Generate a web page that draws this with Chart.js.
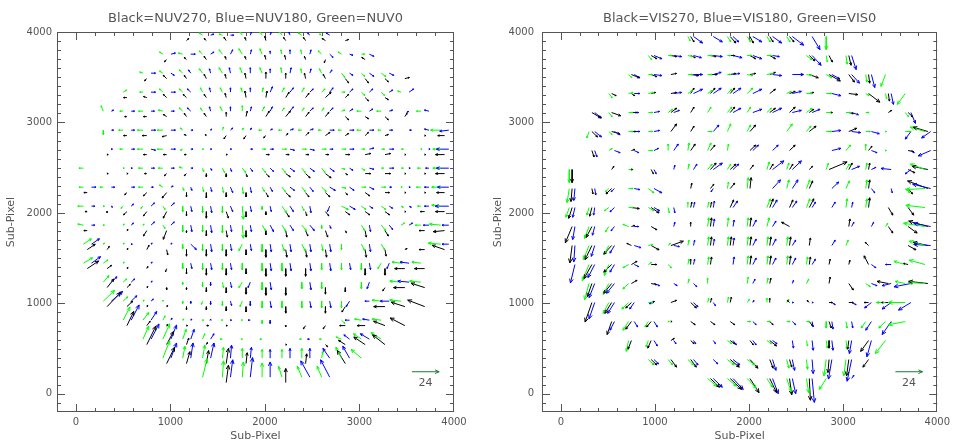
<!DOCTYPE html>
<html><head><meta charset="utf-8">
<script src="https://cdn.jsdelivr.net/npm/chart.js@4.4.1/dist/chart.umd.min.js"></script>
<style>
html,body{margin:0;padding:0;background:#fff;}
#wrap{position:relative;width:954px;height:443px;}
.p{position:absolute;top:0;width:477px;height:443px;}
canvas{display:block;}
</style></head>
<body><div id="wrap">
<div class="p" style="left:0"><canvas id="c1" width="477" height="443"></canvas></div>
<div class="p" style="left:477px"><canvas id="c2" width="477" height="443"></canvas></div>
</div>
<script>
// ---------------- data ----------------
const X_TICKS = [0, 1000, 2000, 3000, 4000];
const Y_TICKS = [0, 1000, 2000, 3000, 4000];
const GRID_X = [120,330,540,750,960,1170,1380,1590,1800,2010,2220,2430,2640,2850,3060,3270,3480,3690,3900];
const GRID_Y = [3950,3740,3530,3320,3110,2900,2690,2480,2270,2060,1850,1640,1430,1220,1010,800,590,380,170];
const NUV_START = [5,4,3,2,1,1,1,0,0,0,0,0,0,1,1,2,3,4,6];
const VIS_START = [6,4,3,2,1,1,1,0,0,0,0,0,0,1,1,2,3,4,7];
const LEGEND_VALUE = 24;

const NUV_G = [
[0,0,-3,2,-3,1,-2,3,-2,3,-2,3,-3,2,-2,1,0,0],
[-3,2,-4,1,-3,3,-3,4,-3,5,-2,5,-1,4,-1,4,-3,3,-3,2,3,0],
[-3,1,-3,2,-3,3,-3,4,-3,5,-2,5,-2,5,-1,5,-1,4,-2,4,3,-4,3,-3,4,-3,0,0],
[3,2,-3,0,-3,3,-3,3,-2,4,-2,4,-1,4,1,4,2,4,2,4,3,3,3,0,3,-3,3,-3,-3,1],
[-2,5,-3,0,-4,0,-4,1,-3,3,-2,3,-2,4,0,5,2,4,2,3,2,3,2,3,3,1,-4,0,-4,0,0,0,-4,0],
[0,-4,-4,0,-5,0,-5,0,-2,2,0,0,1,3,1,2,-3,0,-3,0,-3,0,-3,0,-3,0,-4,0,-3,0,0,0,0,0,-9,0],
[0,0,-3,0,-5,0,-5,0,-2,-1,1,0,0,0,0,0,3,0,4,0,4,0,4,0,4,0,3,0,3,0,2,0,1,0,-7,0],
[-4,0,0,0,1,0,-4,0,-4,0,-3,1,1,-3,2,-4,3,-4,3,-4,3,-4,3,-4,3,-4,3,-1,3,-2,2,0,2,0,-3,0,-7,0],
[-4,0,-3,0,0,0,-4,0,-3,2,1,-3,1,-4,1,-5,1,-6,2,-4,3,-4,3,-4,4,-4,4,-1,4,0,4,0,1,0,-4,0,-8,0],
[-5,0,1,0,-2,-2,-2,-2,2,-3,0,-5,0,-6,0,-6,1,-12,0,-3,4,-6,2,-4,0,0,6,-3,4,-3,4,-3,2,-1,-3,0,-8,1],
[-5,1,1,0,1,1,1,1,2,-3,0,-6,0,-6,0,-7,1,-12,3,-5,3,-5,4,-5,0,-3,0,0,3,-5,4,-5,3,2,-5,0,-10,1],
[7,5,1,1,1,1,0,0,0,0,0,-4,0,-6,0,-6,-3,-6,0,-7,2,-6,3,-6,1,-6,0,-5,3,-6,3,-5,0,0,0,0,-11,1],
[8,5,4,3,1,1,0,0,0,0,0,-5,0,-6,0,-6,0,-6,0,-7,0,-7,0,0,0,-6,0,-6,0,-6,-3,-5,-8,1,-8,1],
[5,6,3,3,0,0,0,0,0,-2,0,-4,1,-5,-3,-5,0,-7,0,0,0,-6,0,-6,0,0,0,-6,0,0,-10,1,-10,1],
[10,10,4,4,1,1,0,1,0,-2,-1,-3,0,-4,-2,-5,0,-6,0,-6,0,-6,0,-6,0,-6,0,0,-8,1,-10,1,0,0],
[6,12,5,7,2,4,1,1,1,0,-1,0,-1,0,0,-3,0,0,0,0,0,0,3,-3,-6,1,-8,1,0,0],
[5,12,6,14,3,9,2,5,-2,0,-1,0,-2,0,0,0,-2,0,-2,0,-5,2,-7,5,-9,6],
[6,16,2,11,2,12,1,10,0,9,0,8,0,8,0,9,1,6,-5,10,-9,8],
[4,17,1,15,1,14,0,13,-3,10,-4,10,-4,10]
];
const NUV_B = [
[0,0,3,1,3,0,1,3,1,3,-1,3,-2,2,-3,2,0,0],
[4,1,4,0,3,2,2,4,1,4,0,3,0,4,1,4,3,-3,3,-1,4,-2],
[4,0,3,-2,-2,3,-1,4,-1,5,0,5,0,4,1,5,1,4,2,3,3,-2,4,-3,4,-2,0,0],
[0,0,4,0,4,0,-3,3,-1,4,0,4,0,4,2,5,3,4,3,3,3,4,3,3,3,3,3,2,4,3],
[2,1,3,0,3,0,3,0,-3,3,-1,4,0,4,1,4,2,4,3,4,3,3,3,3,3,2,3,2,3,1,-2,-1,-4,1],
[2,0,3,0,4,0,4,0,2,0,1,1,2,2,1,2,2,1,3,1,3,1,4,0,4,0,4,0,3,0,2,0,-4,1,-8,-1],
[1,0,3,0,4,-1,4,0,2,0,1,0,1,0,2,0,3,0,4,-1,4,-1,3,0,4,0,4,1,4,0,0,0,1,0,-11,0],
[0,0,0,0,1,0,3,0,3,0,2,0,1,-2,1,-3,2,-3,3,-3,4,-3,4,-3,4,-3,3,-2,4,-1,4,0,1,0,-3,0,-11,0],
[4,0,3,0,3,0,2,0,2,1,1,-3,1,-4,2,-5,1,-5,2,-4,4,-3,3,-4,5,-3,4,-3,4,-2,2,0,1,0,-4,0,-10,0],
[3,0,1,-1,2,2,3,3,3,3,1,-5,1,-6,2,-5,1,-5,1,-5,3,-5,1,-6,-2,-5,5,-3,3,-2,3,-2,2,-1,-4,0,-12,0],
[3,0,0,0,2,2,3,3,3,3,1,-6,1,-7,1,-6,1,-6,3,-6,3,-5,4,-5,1,-3,0,0,1,-6,3,-4,3,2,-5,0,-6,0],
[7,5,0,0,1,0,1,1,1,1,5,-5,1,-7,1,-6,1,-6,1,-7,1,-7,1,-7,1,-7,0,0,1,-7,0,0,0,0,0,0,-6,0],
[8,6,0,0,0,0,1,1,0,0,1,-5,1,-6,1,-6,0,0,1,-7,1,-7,1,-7,1,-7,1,-6,1,-6,-2,-5,-8,1,0,0],
[5,5,3,3,1,1,0,0,0,0,0,-3,1,-5,-2,-5,1,-7,0,0,1,-7,0,0,0,0,-2,-6,0,0,-10,1,0,0],
[10,9,5,5,2,2,0,0,0,-2,0,-3,1,-4,0,-4,1,-6,0,0,1,-6,1,-6,-3,-5,-4,0,-8,0,0,0,0,0],
[7,14,5,8,1,2,1,1,0,1,1,0,-2,0,0,-3,0,0,0,0,0,0,-4,0,-6,1,0,0,0,0],
[7,14,5,13,3,9,3,5,0,0,0,0,0,0,0,0,-2,0,0,0,-5,4,-8,5,0,0],
[5,14,2,14,3,14,1,12,1,10,0,8,0,9,0,9,-6,9,-6,11,0,0],
[0,0,2,16,2,18,0,14,0,0,-8,15,-8,16]
];
const NUV_K = [
[2,2,-2,2,-2,3,-1,3,-1,4,-2,3,-2,3,-3,2,3,1],
[-2,-2,-2,2,-2,3,-1,3,-1,3,-1,4,-1,4,-1,3,-1,-3,0,0,-3,2],
[-2,-2,-3,3,-2,3,-2,4,-1,4,-1,5,0,6,0,5,-1,5,-2,4,3,-4,3,-4,3,-3,4,1],
[-3,0,-3,1,-3,3,-3,3,-2,3,-1,4,-1,6,1,6,3,5,3,4,5,5,3,3,3,-3,3,-2,0,0],
[0,0,-2,0,-3,0,-3,2,-2,3,-2,3,0,4,1,5,3,5,4,5,3,4,3,4,3,-3,3,-2,3,-3,2,3,0,0],
[0,0,-3,0,-4,0,-4,-1,-2,1,-1,1,-2,-3,-2,-3,-2,-2,2,2,3,3,4,3,3,2,3,3,3,1,0,0,1,0,-6,0],
[1,0,0,0,-3,0,-3,0,-2,0,0,0,1,0,0,0,3,0,3,0,3,0,3,0,4,0,5,1,5,1,1,0,1,0,-8,0],
[0,0,1,0,1,0,-2,0,-2,-2,-2,-2,0,-3,0,-3,1,-3,3,-3,4,-3,4,-4,5,-4,2,-1,5,0,5,0,1,0,1,0,-8,0],
[-3,0,0,0,-2,-2,-3,-3,-4,-5,0,-4,0,-5,0,-4,0,-4,2,-4,4,-4,3,-4,4,-4,2,-2,4,-3,4,0,1,0,1,0,-7,0],
[-2,0,0,-1,-3,-3,-3,-4,-3,-6,0,-4,0,-6,2,-6,0,-5,0,-3,3,-5,1,-4,3,-4,4,-3,4,-3,4,-3,1,0,-4,0,-8,0],
[-3,0,0,0,1,1,-3,-5,-3,-8,0,-2,0,-5,1,-6,0,-6,0,-4,1,-6,2,-5,2,-6,1,-2,1,-6,3,-5,0,0,-5,0,-10,-1],
[7,5,2,3,1,1,2,4,1,-5,0,-6,0,-6,0,-6,0,-5,0,-7,1,-7,1,-7,1,-7,0,0,1,-7,1,-6,2,1,-5,0,-11,4],
[10,7,4,3,1,1,1,2,-1,-3,0,-5,0,-6,0,-6,0,-5,0,-7,0,-7,0,-7,0,0,0,0,0,-6,0,-6,-9,0,-9,0],
[6,8,3,3,1,1,0,-2,0,-2,0,-4,0,-5,0,-6,0,-7,0,-7,0,0,0,-6,0,-4,0,0,-2,-3,-10,0,-12,4],
[12,13,5,5,1,1,1,1,0,-3,0,-3,0,-4,0,-5,0,0,0,-6,0,0,0,-6,-3,-5,0,0,-10,0,-12,4,-15,6],
[6,13,3,4,1,1,1,0,2,0,1,0,0,0,0,0,0,-1,-2,-3,-2,-3,-5,0,-7,0,-10,4,-13,7],
[8,17,6,12,2,6,1,2,0,0,0,0,0,0,1,0,0,0,2,-2,-6,4,-10,7,-11,9],
[7,15,3,11,2,12,2,14,1,10,0,0,0,0,1,9,0,0,-7,12,0,0],
[0,0,2,16,0,0,0,0,0,13,0,0,0,0]
];

const VIS_G = [
[2,-4,0,0,3,-5,3,-5,3,-5,3,-5,0,0,0,-12],
[3,-4,3,0,4,-1,4,0,3,0,4,0,4,0,0,0,5,-4,1,-6,1,-8],
[3,-3,4,0,0,0,4,0,4,0,3,0,5,-1,5,1,0,0,5,-1,5,-3,0,0,1,-7,-4,-11],
[3,-4,4,1,5,1,0,0,4,3,4,3,4,4,5,5,0,0,4,2,5,0,5,0,0,0,3,-2,1,-5,-7,-10],
[0,0,3,-4,4,0,4,0,4,3,0,0,3,5,4,5,3,5,4,4,0,0,5,4,5,0,4,0,3,0,0,0,3,-4],
[-2,-6,3,-3,4,0,4,0,0,0,0,0,4,0,3,7,3,6,0,0,5,7,4,5,5,0,0,0,4,0,1,0,5,0,-13,4],
[0,0,3,2,0,0,4,0,0,6,1,7,3,7,1,6,0,0,0,0,0,0,0,0,0,0,4,5,0,6,1,0,0,0,0,0],
[0,-12,0,0,0,0,4,0,0,0,0,0,1,5,4,5,3,5,0,0,2,7,2,6,0,0,2,6,3,5,1,6,0,0,0,0,-13,5],
[-2,-13,0,0,-3,-3,4,0,5,-4,0,0,0,0,0,0,1,6,1,10,0,0,2,8,3,8,0,0,3,7,1,8,0,0,4,-4,-17,-1],
[-3,-9,-2,-7,-4,-3,4,0,5,-3,1,-5,0,5,1,5,0,0,0,0,3,8,0,0,3,8,0,0,1,8,1,8,0,0,0,0,-17,2],
[0,0,-4,-11,-3,-5,-5,2,0,0,0,0,0,0,1,8,1,8,1,8,2,8,0,0,0,0,0,0,0,0,0,0,2,3,0,0,-19,3],
[0,0,-5,-13,-4,-8,0,0,4,1,2,2,1,5,1,8,1,8,1,8,1,8,1,8,0,0,0,0,2,5,0,0,0,0,0,0,-14,4],
[0,0,-6,-15,-4,-10,-5,-3,3,2,3,-3,1,5,1,7,0,0,1,8,1,8,1,8,1,7,0,0,0,0,0,0,0,0,-10,3,-14,4],
[-4,-15,-5,-10,-5,-5,0,0,0,0,1,4,0,5,0,0,1,6,1,5,0,0,2,4,0,0,0,0,4,-3,0,0,-9,2,-15,1],
[0,0,-5,-10,-6,-6,4,0,0,0,0,0,1,4,1,5,2,3,0,4,2,3,0,0,0,0,0,0,0,0,-8,0,-15,0],
[0,0,-5,-8,-3,-5,1,0,0,0,0,0,0,0,3,0,3,0,3,0,3,0,0,-6,1,-6,-4,-6,-6,-6,-15,-3],
[-2,-10,-2,-6,0,0,0,0,0,0,4,-3,0,0,4,-3,0,0,1,-5,1,-7,1,-8,0,0,-9,-12],
[5,-5,4,-5,5,-5,0,0,6,-5,7,-5,0,0,2,-8,1,-9,-2,-15,-2,-15,0,0],
[8,-7,8,-7,8,-9,5,-8,4,-12,2,-13,-6,-10,0,0]
];
const VIS_B = [
[8,-6,8,-5,5,-5,8,-5,8,-6,10,-8,7,-12,0,0],
[7,-3,7,-1,7,-2,8,-1,8,-2,8,-3,6,-1,0,0,8,-9,0,0,4,-13],
[5,-3,7,-1,0,0,8,0,7,2,6,1,0,0,8,-1,10,0,0,0,7,-4,7,-8,3,-12,0,0],
[0,0,5,0,0,0,7,1,8,4,7,5,7,5,8,4,0,0,8,2,0,0,8,-2,0,0,0,0,2,-10,0,0],
[6,-5,0,0,4,0,5,1,5,2,0,0,0,0,7,4,8,3,8,4,8,2,7,3,0,0,6,-2,0,0,0,0,4,-10],
[6,-5,5,-3,5,0,5,1,0,0,0,0,5,6,0,0,0,0,0,0,0,0,0,0,8,1,8,-1,7,-2,0,0,-5,-7,-8,-6],
[2,-6,5,-2,4,-2,4,2,4,6,0,0,0,0,0,0,5,5,5,5,0,0,0,0,8,2,0,0,5,-2,0,0,3,-2,-11,-5],
[0,0,0,0,0,0,0,0,2,-4,1,4,3,5,8,6,5,5,0,0,10,8,8,8,0,0,0,0,7,3,4,2,-9,1,-5,-4,0,0],
[-1,-11,1,-6,-3,-3,5,-1,7,-4,0,0,0,0,-2,-3,0,0,0,0,7,8,5,8,0,0,6,6,0,0,3,-4,1,-4,0,0,-16,4],
[-2,-9,-1,-7,-4,-4,0,0,5,-3,1,-5,1,5,1,6,4,6,0,0,4,7,4,6,3,5,3,5,1,5,0,0,0,0,0,0,0,0],
[-2,-12,-2,-8,-3,-4,4,0,0,0,1,4,0,0,1,7,1,6,3,6,3,5,0,0,0,0,0,0,2,4,2,4,0,0,0,0,-15,3],
[-1,-15,-3,-10,-4,-7,6,-2,0,0,5,-1,1,5,1,6,1,7,3,6,3,6,3,5,0,0,3,5,0,0,0,0,0,0,0,0,-15,1],
[-4,-17,-6,-12,-4,-7,4,-2,0,0,0,0,1,5,0,0,1,7,3,6,3,6,3,6,3,5,0,0,0,0,4,-3,-5,0,0,0,0,0],
[-5,-13,-7,-9,0,0,5,-2,3,-2,3,-3,0,0,0,0,2,4,0,0,1,3,0,0,0,0,0,0,5,-2,-8,-2,-15,-3,0,0],
[-5,-15,-6,-10,-4,-6,-4,-1,0,0,4,-4,2,-3,0,0,1,2,0,0,1,0,1,0,3,-2,4,-2,-6,-5,-8,-6,-11,-7],
[-4,-8,3,-5,3,-5,0,0,0,0,0,0,0,0,3,-3,0,0,3,-3,1,-5,1,-7,1,-6,-5,-8,-8,-12,0,0],
[0,0,3,-5,2,-3,2,-3,2,-3,3,-4,3,-4,4,-3,1,-7,1,-9,1,-9,-2,-12,-4,-15,0,0],
[4,-4,0,0,4,-5,4,-4,6,-5,0,0,3,-10,2,-10,1,-13,-3,-18,-4,-20,0,0],
[8,-8,9,-10,0,0,5,-14,3,-14,2,-22,0,0,2,3]
];
const VIS_K = [
[3,-5,0,0,5,-6,3,-6,3,-5,4,-5,0,0,0,0],
[5,-3,5,-1,4,-2,5,-1,4,0,5,-3,5,-3,0,0,5,-5,3,-6,2,-9],
[7,-3,5,-2,5,1,7,-1,6,0,5,1,5,1,5,2,0,0,8,-3,10,-6,5,-7,1,-8,0,0],
[4,-2,3,-2,4,1,5,1,3,5,4,5,4,5,0,0,5,4,5,2,4,1,0,0,8,-1,10,-8,1,-7,0,0],
[8,-5,8,-3,5,0,0,0,5,4,3,5,0,0,4,5,0,0,5,4,5,5,4,3,3,0,4,-1,0,0,3,2,4,-4],
[5,-5,7,-2,4,0,0,0,5,7,3,5,0,0,0,0,5,6,0,0,0,0,6,5,0,0,7,3,0,0,0,0,0,0,-13,4],
[2,-6,0,0,3,1,0,0,0,0,4,6,4,5,0,0,5,5,0,0,5,5,0,0,0,0,0,0,3,4,0,0,5,-1,0,0],
[0,-12,0,0,2,3,1,0,2,-4,0,0,0,0,5,6,5,5,3,4,3,5,3,5,3,3,16,7,3,6,1,6,0,0,6,-3,-14,3],
[-1,-12,1,-5,-5,-5,0,0,0,0,0,0,1,5,3,4,4,5,1,10,0,0,0,0,3,7,0,0,0,0,1,8,0,0,4,-5,-18,7],
[-3,-10,-2,-8,0,0,7,-1,7,-5,0,0,1,5,1,5,3,7,0,0,3,8,3,7,4,8,0,0,0,0,1,9,4,-7,5,-7,0,0],
[-6,-15,-5,-10,0,0,3,1,5,-3,0,0,0,4,1,8,0,0,1,8,0,0,-7,4,0,0,0,0,1,7,0,0,4,-6,8,-6,-17,5],
[-2,-16,-6,-13,-7,-8,-4,2,7,-4,11,4,0,0,1,8,1,8,1,8,1,8,1,8,1,7,0,0,0,0,-3,3,0,0,7,-4,-13,3],
[0,0,-7,-13,-7,-7,5,3,5,0,0,0,0,5,1,7,0,0,1,8,1,8,1,8,1,7,1,5,1,4,-4,8,0,0,-4,1,0,0],
[-4,-12,-7,-9,5,3,5,-1,0,0,0,0,0,0,0,0,0,0,1,5,0,0,0,0,1,6,4,-6,0,0,-10,2,0,0,-17,2],
[-6,-18,-6,-10,-5,-5,3,1,5,2,5,-5,1,4,1,5,0,0,0,4,-2,2,-2,2,3,0,4,0,-4,0,-6,0,0,0],
[-4,-12,-5,-7,-4,-5,1,0,4,-3,4,-3,4,-3,0,0,3,-3,0,0,3,-4,2,-6,0,0,0,0,0,0,0,0],
[-3,-8,-3,-7,3,2,3,-3,0,0,4,-3,3,-4,6,-5,0,0,0,0,0,-7,-1,-8,-7,-10,0,0],
[5,-5,5,-7,5,-7,0,0,8,-7,7,-8,3,-8,2,-7,0,0,-1,-12,-2,-15,-5,-7],
[8,-8,10,-10,8,-13,6,-13,2,-15,1,-20,0,0,0,0]
];

// ---------------- geometry / style ----------------
const AXIS_MIN = -200, AXIS_MAX = 4000;
const X_MINOR = 200, Y_MINOR = 100, MAJOR = 1000;
const UNIT = 12;                       // sub-pixels per vector unit
const LEGEND_AT = [3555, 245];
const LEGEND_TEXT_AT = [3699, 120];
const NUV_OFF = {g: [-40, 15], b: [45, 15], k: [0, -45]};
const VIS_OFF = {g: [-30, 0], b: [30, 0], k: [0, 0]};
const COL = {g: '#00ff00', b: '#0000ff', k: '#000000', legend: '#1e7b34', text: '#555555', frame: '#555555'};
const FONT = 'DejaVu Sans';

function arrowPoints(rows, starts, off) {
  const pts = [];
  rows.forEach((row, k) => {
    for (let i = 0; i < row.length; i += 2) {
      const dx = row[i], dy = row[i + 1];
      if (dx === 0 && dy === 0) continue;
      const x0 = GRID_X[starts[k] + i / 2] + off[0];
      const y0 = GRID_Y[k] + off[1];
      pts.push({x: x0, y: y0}, {x: x0 + dx * UNIT, y: y0 + dy * UNIT}, {x: NaN, y: NaN});
    }
  });
  return pts;
}

const framePlugin = {
  id: 'frameTicks',
  beforeDatasetsDraw(chart) {
    const {ctx, chartArea: a} = chart;
    const xs = chart.scales.x, ys = chart.scales.y;
    ctx.save();
    ctx.strokeStyle = COL.frame; ctx.lineWidth = 1;
    ctx.strokeRect(Math.round(a.left) + 0.5, Math.round(a.top) + 0.5,
                   Math.round(a.right - a.left) - 1, Math.round(a.bottom - a.top) - 1);
    ctx.beginPath();
    for (let v = AXIS_MIN + X_MINOR; v < AXIS_MAX; v += X_MINOR) {
      const p = Math.round(xs.getPixelForValue(v)) + 0.5;
      const L = v % MAJOR === 0 ? 8 : 4;
      ctx.moveTo(p, a.bottom); ctx.lineTo(p, a.bottom - L);
      ctx.moveTo(p, a.top); ctx.lineTo(p, a.top + L);
    }
    for (let v = AXIS_MIN + Y_MINOR; v < AXIS_MAX; v += Y_MINOR) {
      const p = Math.round(ys.getPixelForValue(v)) + 0.5;
      const L = v % MAJOR === 0 ? 8 : 4;
      ctx.moveTo(a.left, p); ctx.lineTo(a.left + L, p);
      ctx.moveTo(a.right, p); ctx.lineTo(a.right - L, p);
    }
    ctx.stroke();
    ctx.restore();
  }
};

const headPlugin = {
  id: 'arrowHeads',
  afterDatasetsDraw(chart) {
    const {ctx, chartArea: a} = chart;
    ctx.save();
    ctx.beginPath(); ctx.rect(a.left, a.top, a.right - a.left, a.bottom - a.top); ctx.clip();
    chart.data.datasets.forEach((ds, i) => {
      const el = chart.getDatasetMeta(i).data;
      ctx.strokeStyle = ds.borderColor; ctx.lineWidth = 1;
      ctx.beginPath();
      for (let j = 0; j + 1 < el.length; j += 3) {
        const p = el[j], q = el[j + 1];
        const vx = q.x - p.x, vy = q.y - p.y, L = Math.hypot(vx, vy);
        if (!(L > 0.5)) continue;
        const h = Math.min(4.5, Math.max(1.5, L * 0.28));
        const ang = Math.atan2(vy, vx);
        for (const s of [-1, 1]) {
          const t = ang + Math.PI + s * 0.42;
          ctx.moveTo(q.x, q.y);
          ctx.lineTo(q.x + h * Math.cos(t), q.y + h * Math.sin(t));
        }
      }
      ctx.stroke();
    });
    ctx.restore();
    const xs = chart.scales.x, ys = chart.scales.y;
    ctx.save();
    ctx.fillStyle = COL.text; ctx.font = '11px "' + FONT + '"';
    ctx.textAlign = 'center'; ctx.textBaseline = 'middle';
    ctx.fillText(String(LEGEND_VALUE), xs.getPixelForValue(LEGEND_TEXT_AT[0]), ys.getPixelForValue(LEGEND_TEXT_AT[1]));
    ctx.restore();
  }
};

function makeChart(id, title, G, B, K, starts, off, pad, yLabPad, yTitlePad) {
  const ds = (label, pts, color) => ({
    label, data: pts, borderColor: color, backgroundColor: color,
    borderWidth: 1, pointRadius: 0, pointHoverRadius: 0, showLine: true, spanGaps: false, tension: 0
  });
  return new Chart(document.getElementById(id), {
    type: 'line',
    data: {datasets: [
      ds('Green', arrowPoints(G, starts, off.g), COL.g),
      ds('Blue', arrowPoints(B, starts, off.b), COL.b),
      ds('Black', arrowPoints(K, starts, off.k), COL.k),
      ds('Scale', [{x: LEGEND_AT[0], y: LEGEND_AT[1]}, {x: LEGEND_AT[0] + LEGEND_VALUE * UNIT, y: LEGEND_AT[1]}, {x: NaN, y: NaN}], COL.legend)
    ]},
    options: {
      responsive: false, animation: false, events: [],
      layout: {padding: pad},
      plugins: {
        legend: {display: false}, tooltip: {enabled: false},
        title: {display: true, text: title, fullSize: false, color: COL.text,
                font: {family: FONT, size: 13, weight: 'normal'}, padding: {top: 11, bottom: 5.4}}
      },
      scales: {
        x: {type: 'linear', min: AXIS_MIN, max: AXIS_MAX,
            afterBuildTicks: s => { s.ticks = X_TICKS.map(v => ({value: v})); },
            afterFit: s => { s.height = 31; },
            ticks: {callback: v => String(v), color: COL.text, font: {family: FONT, size: 10}, padding: 4, maxRotation: 0, autoSkip: false},
            grid: {display: false, drawTicks: false}, border: {display: false},
            title: {display: true, text: 'Sub-Pixel', color: COL.text, font: {family: FONT, size: 11}, padding: {top: 0, bottom: 0}}},
        y: {type: 'linear', min: AXIS_MIN, max: AXIS_MAX,
            afterBuildTicks: s => { s.ticks = Y_TICKS.map(v => ({value: v})); },
            afterFit: s => { s.width = 57; },
            ticks: {callback: v => String(v), color: COL.text, font: {family: FONT, size: 10}, padding: yLabPad, autoSkip: false},
            grid: {display: false, drawTicks: false}, border: {display: false},
            title: {display: true, text: 'Sub-Pixel', color: COL.text, font: {family: FONT, size: 11}, padding: {top: yTitlePad, bottom: 0}}}
      }
    },
    plugins: [framePlugin, headPlugin]
  });
}

makeChart('c1', 'Black=NUV270, Blue=NUV180, Green=NUV0', NUV_G, NUV_B, NUV_K, NUV_START, NUV_OFF,
          {left: 0, right: 23, top: 0, bottom: 0}, 5, 5);
makeChart('c2', 'Black=VIS270, Blue=VIS180, Green=VIS0', VIS_G, VIS_B, VIS_K, VIS_START, VIS_OFF,
          {left: 8, right: 14, top: 0, bottom: 0}, 8, 7);
</script>
</body></html>
